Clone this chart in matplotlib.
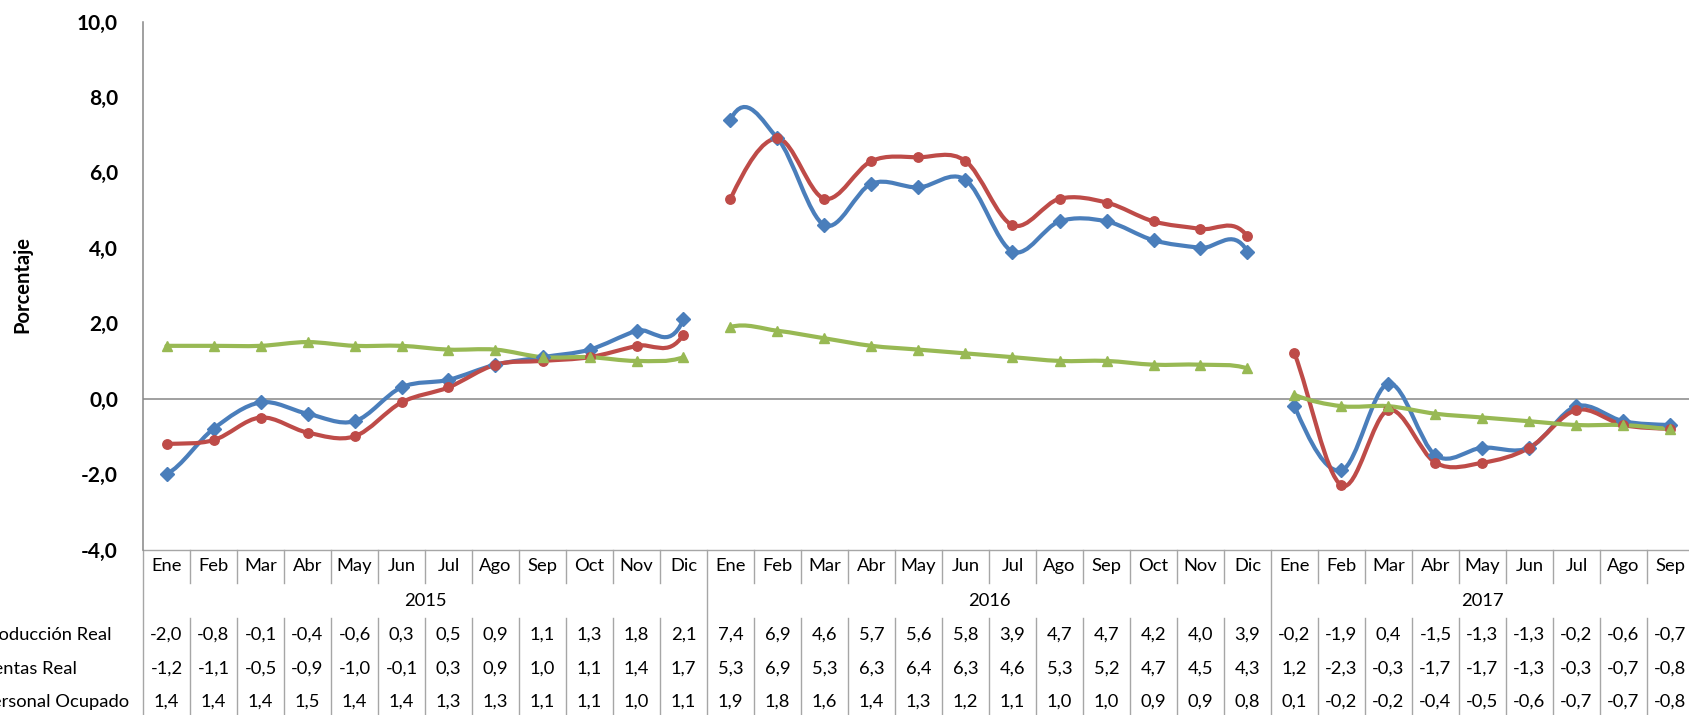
import numpy as np
import matplotlib
matplotlib.use('Agg')
import matplotlib.pyplot as plt
from matplotlib.path import Path
from matplotlib.patches import PathPatch
from matplotlib.lines import Line2D

plt.rcParams['font.family'] = ['Lato', 'DejaVu Sans']

# datos
meses = ['Ene', 'Feb', 'Mar', 'Abr', 'May', 'Jun', 'Jul', 'Ago', 'Sep', 'Oct', 'Nov', 'Dic']
anios = ['2015', '2016', '2017']
meses_por_anio = [12, 12, 9]
nombres = ['Producción Real', 'Ventas Real', 'Personal Ocupado']
produccion = [-2.0, -0.8, -0.1, -0.4, -0.6, 0.3, 0.5, 0.9, 1.1, 1.3, 1.8, 2.1,
              7.4, 6.9, 4.6, 5.7, 5.6, 5.8, 3.9, 4.7, 4.7, 4.2, 4.0, 3.9,
              -0.2, -1.9, 0.4, -1.5, -1.3, -1.3, -0.2, -0.6, -0.7]
ventas = [-1.2, -1.1, -0.5, -0.9, -1.0, -0.1, 0.3, 0.9, 1.0, 1.1, 1.4, 1.7,
          5.3, 6.9, 5.3, 6.3, 6.4, 6.3, 4.6, 5.3, 5.2, 4.7, 4.5, 4.3,
          1.2, -2.3, -0.3, -1.7, -1.7, -1.3, -0.3, -0.7, -0.8]
personal = [1.4, 1.4, 1.4, 1.5, 1.4, 1.4, 1.3, 1.3, 1.1, 1.1, 1.0, 1.1,
            1.9, 1.8, 1.6, 1.4, 1.3, 1.2, 1.1, 1.0, 1.0, 0.9, 0.9, 0.8,
            0.1, -0.2, -0.2, -0.4, -0.5, -0.6, -0.7, -0.7, -0.8]
yticks = [-4, -2, 0, 2, 4, 6, 8, 10]

colores = ['#4A7EBB', '#BE4B48', '#98B954']
marcadores = [('D', 7.2), ('o', 6.8), ('^', 7.5)]
GRIS = '#A6A6A6'
FS = 13.2

W, H = 1689, 715
X0, X1 = 143, 1694
YTOP, YBOT = 21.5, 549.5

fig = plt.figure(figsize=(W / 100, H / 100), dpi=100)
ax = fig.add_axes([X0 / W, 1 - YBOT / H, (X1 - X0) / W, (YBOT - YTOP) / H])

n = len(produccion)
x = np.arange(n)
# posiciones de corte entre anios (no se dibuja la linea)
cortes = list(np.cumsum(meses_por_anio)[:-1] - 1)


def curva_suave(y):
    # suavizado tipo Excel (Bezier con tangentes Catmull-Rom sobre toda la serie)
    y = np.asarray(y, float)
    t = np.empty(len(y))
    t[1:-1] = (y[2:] - y[:-2]) / 2
    t[0] = (y[1] - y[0]) / 2
    t[-1] = (y[-1] - y[-2]) / 2
    verts, codes = [], []
    for i in range(len(y) - 1):
        if i in cortes:
            continue
        verts += [(i, y[i]), (i + 1 / 3, y[i] + t[i] / 3),
                  (i + 1 - 1 / 3, y[i + 1] - t[i + 1] / 3), (i + 1, y[i + 1])]
        codes += [Path.MOVETO, Path.CURVE4, Path.CURVE4, Path.CURVE4]
    return Path(verts, codes)


ax.axhline(0, color='#868686', lw=1.1, zorder=1)
for serie, col, (mk, ms) in zip([produccion, ventas, personal], colores, marcadores):
    ax.add_patch(PathPatch(curva_suave(serie), fill=False, edgecolor=col, lw=3.0,
                           capstyle='round', joinstyle='round', zorder=3))
    ax.plot(x, serie, ls='none', marker=mk, ms=ms, color=col, mec=col, zorder=4)

ax.set_xlim(-0.5, n - 0.5)
ax.set_ylim(-4, 10)
ax.set_yticks(yticks)
ax.set_yticklabels([f'{v:.1f}'.replace('.', ',') for v in yticks],
                   fontsize=15, fontweight='bold')
ax.set_xticks([])
ax.tick_params(axis='y', length=0, pad=18)
for s in ['top', 'right', 'bottom']:
    ax.spines[s].set_visible(False)
ax.spines['left'].set_color('#868686')
ax.spines['left'].set_linewidth(1.1)

fig.text(22 / W, 1 - 285 / H, 'Porcentaje', rotation=90, ha='center', va='center',
         fontsize=14.5, fontweight='bold')

# tabla de datos
tr = ax.get_xaxis_transform()


def fy(yp):
    return (YBOT - yp) / (YBOT - YTOP)


def linea(xs, ys):
    ax.add_line(Line2D(xs, [fy(v) for v in ys], transform=tr, color=GRIS,
                       lw=1.0, clip_on=False))


linea([-0.5, n - 0.5], [YBOT, YBOT])
fronteras = [-0.5] + [c + 0.5 for c in cortes]
for k in range(n + 1):
    xb = k - 0.5
    if xb in fronteras:
        linea([xb, xb], [YBOT, 720])
    else:
        linea([xb, xb], [YBOT, 583])
        linea([xb, xb], [618, 720])

filas_y = [618, 652, 685]
for yp in filas_y:
    ax.add_line(Line2D([0, 1], [1 - yp / H] * 2, transform=fig.transFigure,
                       color=GRIS, lw=1.0))

for i in range(n):
    ax.text(i, fy(566), meses[i % 12], transform=tr, ha='center', va='center', fontsize=FS)

inicio = 0
for anio, m in zip(anios, meses_por_anio):
    ax.text(inicio + (m - 1) / 2, fy(601), anio, transform=tr, ha='center', va='center',
            fontsize=FS)
    inicio += m

for serie, nombre, yp in zip([produccion, ventas, personal], nombres, [635, 668.5, 702]):
    fig.text(-19 / W, 1 - yp / H, nombre, ha='left', va='center', fontsize=FS)
    for i, v in enumerate(serie):
        ax.text(i, fy(yp), f'{v:.1f}'.replace('.', ','), transform=tr, ha='center',
                va='center', fontsize=FS)

fig.savefig('out.png', dpi=100)
